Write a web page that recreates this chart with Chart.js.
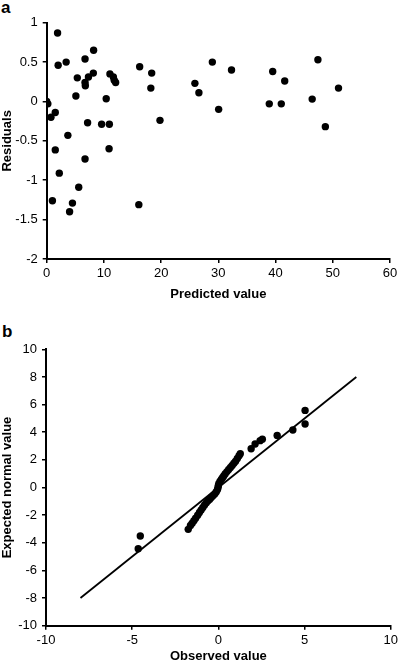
<!DOCTYPE html>
<html>
<head>
<meta charset="utf-8">
<script src="https://cdn.jsdelivr.net/npm/chart.js@4.4.1/dist/chart.umd.min.js"></script>
<style>
  html, body { margin: 0; padding: 0; background: #fff; overflow: hidden; }
  body { width: 401px; height: 661px; position: relative; font-family: "Liberation Sans", Arial, sans-serif; }
  .panel { position: absolute; font-weight: bold; font-size: 17px; color: #000; line-height: 1; }
  canvas { position: absolute; left: 0; }
</style>
</head>
<body>
<div class="panel" style="left:1px; top:-1px;">a</div>
<div class="panel" style="left:2px; top:323px;">b</div>
<canvas id="chartResid" width="401" height="310" style="top:0px;"></canvas>
<canvas id="chartQQ" width="401" height="350" style="top:318px;"></canvas>
<script>
// panel a: residuals vs predicted value
var predX = [0, 0.2, 0.75, 1.5, 1.9, 2.0, 3.4, 6.7, 8.2, 5.35, 6.7, 6.75, 7.3, 8.15, 5.1, 10.4, 11.05, 11.65, 11.8, 12.05,
  7.15, 9.6, 10.95, 3.7, 1.5, 10.9, 6.7, 2.2, 5.6, 1.0, 4.5, 4.0, 16.1, 16.25, 18.35, 18.2, 19.8, 25.9, 26.6, 28.95,
  32.3, 30.05, 39.5, 41.6, 38.9, 41.0, 47.4, 51.0, 46.4, 48.7];
var residY = [0.0, -0.03, -0.2, -0.14, 0.87, 0.46, 0.5, 0.54, 0.65, 0.3, 0.24, 0.2, 0.31, 0.36, 0.07, 0.035, 0.35, 0.31, 0.27, 0.24,
  -0.27, -0.29, -0.29, -0.43, -0.615, -0.6, -0.73, -0.91, -1.09, -1.26, -1.29, -1.4, -1.31, 0.44, 0.36, 0.17, -0.24, 0.23, 0.11, 0.5,
  0.4, -0.1, 0.38, 0.26, -0.03, -0.03, 0.53, 0.17, 0.03, -0.32];

// panel b: normal probability plot
var obsX = [-4.65, -4.53, -1.75, -1.62, -1.52, -1.42, -1.32, -1.2, -1.1, -1.0, -0.9, -0.8, -0.7, -0.6, -0.5, -0.4, -0.3, -0.2, -0.12, -0.05,
  -0.02, 0.0, 0.03, 0.1, 0.18, 0.25, 0.32, 0.4, 0.5, 0.6, 0.7, 0.8, 0.9, 1.0, 1.1, 1.2, 1.27, 1.9, 2.13, 2.42, 2.55, 3.41, 4.32, 5.03, 5.03];
var expY = [-4.43, -3.51, -3.03, -2.75, -2.59, -2.4, -2.23, -2.0, -1.8, -1.63, -1.45, -1.27, -1.1, -0.95, -0.85, -0.7, -0.58, -0.45, -0.3, -0.15,
  0.0, 0.15, 0.3, 0.45, 0.6, 0.72, 0.85, 1.0, 1.15, 1.3, 1.45, 1.6, 1.75, 1.9, 2.1, 2.3, 2.45, 2.8, 3.15, 3.39, 3.5, 3.77, 4.16, 4.6, 5.58];
var lineX = [-8, 8];
var lineY = [-8, 8];

var tickFont = { family: "'Liberation Sans', Arial, sans-serif", size: 13 };
var titleFont = { family: "'Liberation Sans', Arial, sans-serif", size: 13, weight: 'bold' };

function toPoints(xs, ys){
    var pts = [];
    for (let i = 0; i < xs.length; i++) {
        pts.push({ x: xs[i], y: ys[i] });
    }
    return pts;
}

function axis(min, max, step, title, fixedSize, horizontal){
    return {
        type: 'linear',
        min: min,
        max: max,
        ticks: {
            stepSize: step,
            color: '#000',
            font: tickFont,
            padding: horizontal ? 3 : 5,
            maxRotation: 0,
            callback: function(v){ return String(v); }
        },
        grid: {
            drawOnChartArea: false,
            drawTicks: true,
            tickLength: 4,
            color: '#000',
            lineWidth: 1.5
        },
        border: { display: true, color: '#000', width: 2 },
        title: { display: true, text: title, color: '#000', font: titleFont, padding: 0 },
        afterFit: function(scale){
            if (horizontal) scale.height = fixedSize;
            else scale.width = fixedSize;
        }
    };
}

new Chart("chartResid", {
    type: 'scatter',
    data: {
        datasets: [{
            data: toPoints(predX, residY),
            backgroundColor: '#000',
            borderColor: '#000',
            pointRadius: 3.7,
            pointBorderWidth: 0
        }]
    },
    options: {
        responsive: false,
        animation: false,
        layout: { padding: { left: 0, top: 22.7, right: 11, bottom: 8.2 } },
        plugins: { legend: { display: false }, tooltip: { enabled: false } },
        scales: {
            x: axis(0, 60, 10, 'Predicted value', 42.8, true),
            y: axis(-2, 1, 0.5, 'Residuals', 46.7, false)
        }
    }
});

new Chart("chartQQ", {
    type: 'scatter',
    data: {
        datasets: [{
            type: 'line',
            data: toPoints(lineX, lineY),
            borderColor: '#000',
            borderWidth: 1.8,
            pointRadius: 0,
            fill: false
        }, {
            data: toPoints(obsX, expY),
            backgroundColor: '#000',
            borderColor: '#000',
            pointRadius: 3.7,
            pointBorderWidth: 0
        }]
    },
    options: {
        responsive: false,
        animation: false,
        layout: { padding: { left: 0, top: 31.3, right: 7.7, bottom: 4.2 } },
        plugins: { legend: { display: false }, tooltip: { enabled: false } },
        scales: {
            x: axis(-10, 10, 5, 'Observed value', 38.1, true),
            y: axis(-10, 10, 2, 'Expected normal value', 46, false)
        }
    }
});
</script>
</body>
</html>
